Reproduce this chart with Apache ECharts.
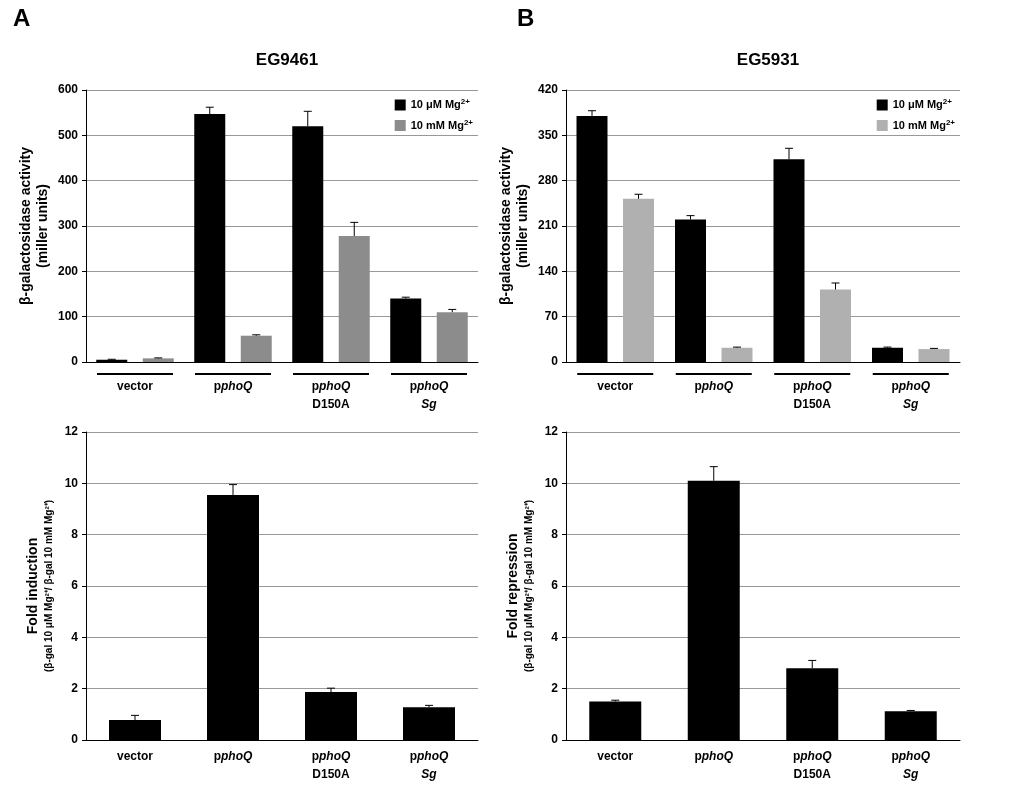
<!DOCTYPE html>
<html><head><meta charset="utf-8">
<script src="https://cdn.jsdelivr.net/npm/echarts@6/dist/echarts.min.js"></script>
<style>body{margin:0;background:#fff}#c{width:1024px;height:800px}</style>
</head><body><div id="c"></div>
<script>
var categories = ["vector", "pphoQ", "pphoQ D150A", "pphoQ Sg"];
// EG9461 beta-gal
var aLow = [5, 547, 520, 140];
var aLowErr = [1, 15, 33, 3];
var aHigh = [8, 58, 278, 110];
var aHighErr = [1, 2, 30, 6];
// EG5931 beta-gal
var bLow = [380, 220, 313, 22];
var bLowErr = [8, 6, 17, 1];
var bHigh = [252, 22, 112, 20];
var bHighErr = [7, 1, 10, 1];
// fold
var aFold = [0.78, 9.55, 1.87, 1.28];
var aFoldErr = [0.18, 0.4, 0.15, 0.07];
var bFold = [1.5, 10.1, 2.8, 1.12];
var bFoldErr = [0.05, 0.55, 0.3, 0.03];

var topLabels = ["{u|}\n{b|vector}", "{u|}\n{b|p}{bi|phoQ}", "{u|}\n{b|p}{bi|phoQ}\n{b|D150A}", "{u|}\n{b|p}{bi|phoQ}\n{bi|Sg}"];
var botLabels = ["{b|vector}", "{b|p}{bi|phoQ}", "{b|p}{bi|phoQ}\n{b|D150A}", "{b|p}{bi|phoQ}\n{bi|Sg}"];
var rich = {
  u: { width: 76, height: 2, lineHeight: 8, backgroundColor: "#000", align: "center" },
  b: { fontWeight: "bold", fontSize: 12, color: "#000", lineHeight: 18 },
  bi: { fontWeight: "bold", fontStyle: "italic", fontSize: 12, color: "#000", lineHeight: 18 }
};
var font = "Arial, Liberation Sans, sans-serif";

function errSeries(xi, yi, vals, errs, offset) {
  return {
    type: "custom", xAxisIndex: xi, yAxisIndex: yi, z: 5,
    data: vals.map(function (v, i) { return [i, v, v + errs[i]]; }),
    renderItem: function (params, api) {
      var p0 = api.coord([api.value(0), api.value(1)]);
      var p1 = api.coord([api.value(0), api.value(2)]);
      var x = p0[0] + offset;
      var st = { stroke: "#000", lineWidth: 1 };
      return { type: "group", children: [
        { type: "line", shape: { x1: x, y1: p0[1], x2: x, y2: p1[1] }, style: st },
        { type: "line", shape: { x1: x - 4, y1: p1[1], x2: x + 4, y2: p1[1] }, style: st }
      ] };
    }
  };
}

var grids = [
  { left: 86, top: 90, width: 392, height: 272 },
  { left: 566, top: 90, width: 394, height: 272 },
  { left: 86, top: 432, width: 392, height: 308 },
  { left: 566, top: 432, width: 394, height: 308 }
];
function xAx(i, labels) {
  return { type: "category", gridIndex: i, data: categories,
    axisLine: { lineStyle: { color: "#000" } }, axisTick: { show: false },
    axisLabel: { margin: 8, formatter: function (v, k) { return labels[k]; }, rich: rich, fontFamily: font } };
}
function yAx(i, max, interval, name, gap) {
  return { type: "value", gridIndex: i, min: 0, max: max, interval: interval,
    name: name, nameLocation: "middle", nameGap: gap, nameRotate: 90,
    nameTextStyle: { rich: {
      t: { fontWeight: "bold", fontSize: 14, color: "#000", lineHeight: 17, fontFamily: font },
      s: { fontWeight: "bold", fontSize: 10, color: "#000", lineHeight: 14, fontFamily: font } } },
    axisLine: { show: true, lineStyle: { color: "#000" } },
    axisTick: { show: true, length: 4, lineStyle: { color: "#000" } },
    axisLabel: { color: "#000", fontWeight: "bold", fontSize: 12, fontFamily: font },
    splitLine: { lineStyle: { color: "#999" } } };
}
var betaName = "{t|β-galactosidase activity}\n{t|(miller units)}";
var legRich = { t: { fontSize: 11, fontWeight: "bold", color: "#000" }, s: { fontSize: 8, fontWeight: "bold", color: "#000", verticalAlign: "top", padding: [0, 0, 6, 0] } };

var option = {
  animation: false,
  textStyle: { fontFamily: font },
  title: [
    { text: "A", left: 8, top: 2, textStyle: { fontSize: 24, fontWeight: "bold", color: "#000" } },
    { text: "B", left: 512, top: 2, textStyle: { fontSize: 24, fontWeight: "bold", color: "#000" } },
    { text: "EG9461", left: 282, top: 47, textAlign: "center", textStyle: { fontSize: 17, fontWeight: "bold", color: "#000" } },
    { text: "EG5931", left: 763, top: 47, textAlign: "center", textStyle: { fontSize: 17, fontWeight: "bold", color: "#000" } }
  ],
  legend: [
    { right: 546, top: 93, orient: "vertical", icon: "rect", itemWidth: 11, itemHeight: 11, itemGap: 8,
      data: ["A10", "A100"], formatter: function (n) { return n == "A10" ? "{t|10 μM Mg}{s|2+}" : "{t|10 mM Mg}{s|2+}"; },
      textStyle: { rich: legRich } },
    { right: 64, top: 93, orient: "vertical", icon: "rect", itemWidth: 11, itemHeight: 11, itemGap: 8,
      data: ["B10", "B100"], formatter: function (n) { return n == "B10" ? "{t|10 μM Mg}{s|2+}" : "{t|10 mM Mg}{s|2+}"; },
      textStyle: { rich: legRich } }
  ],
  grid: grids,
  xAxis: [xAx(0, topLabels), xAx(1, topLabels), xAx(2, botLabels), xAx(3, botLabels)],
  yAxis: [
    yAx(0, 600, 100, betaName, 34),
    yAx(1, 420, 70, betaName, 34),
    yAx(2, 12, 2, "{t|Fold induction}\n{s|(β-gal 10 μM Mg²⁺/ β-gal 10 mM Mg²⁺)}", 30),
    yAx(3, 12, 2, "{t|Fold repression}\n{s|(β-gal 10 μM Mg²⁺/ β-gal 10 mM Mg²⁺)}", 30)
  ],
  series: [
    { name: "A10", type: "bar", xAxisIndex: 0, yAxisIndex: 0, data: aLow, barWidth: 31, barGap: "50%", itemStyle: { color: "#000" } },
    { name: "A100", type: "bar", xAxisIndex: 0, yAxisIndex: 0, data: aHigh, barWidth: 31, itemStyle: { color: "#8c8c8c" } },
    { name: "B10", type: "bar", xAxisIndex: 1, yAxisIndex: 1, data: bLow, barWidth: 31, barGap: "50%", itemStyle: { color: "#000" } },
    { name: "B100", type: "bar", xAxisIndex: 1, yAxisIndex: 1, data: bHigh, barWidth: 31, itemStyle: { color: "#b0b0b0" } },
    { type: "bar", xAxisIndex: 2, yAxisIndex: 2, data: aFold, barWidth: 52, itemStyle: { color: "#000" } },
    { type: "bar", xAxisIndex: 3, yAxisIndex: 3, data: bFold, barWidth: 52, itemStyle: { color: "#000" } },
    errSeries(0, 0, aLow, aLowErr, -23.25),
    errSeries(0, 0, aHigh, aHighErr, 23.25),
    errSeries(1, 1, bLow, bLowErr, -23.25),
    errSeries(1, 1, bHigh, bHighErr, 23.25),
    errSeries(2, 2, aFold, aFoldErr, 0),
    errSeries(3, 3, bFold, bFoldErr, 0)
  ]
};
echarts.init(document.getElementById("c")).setOption(option);
</script></body></html>
